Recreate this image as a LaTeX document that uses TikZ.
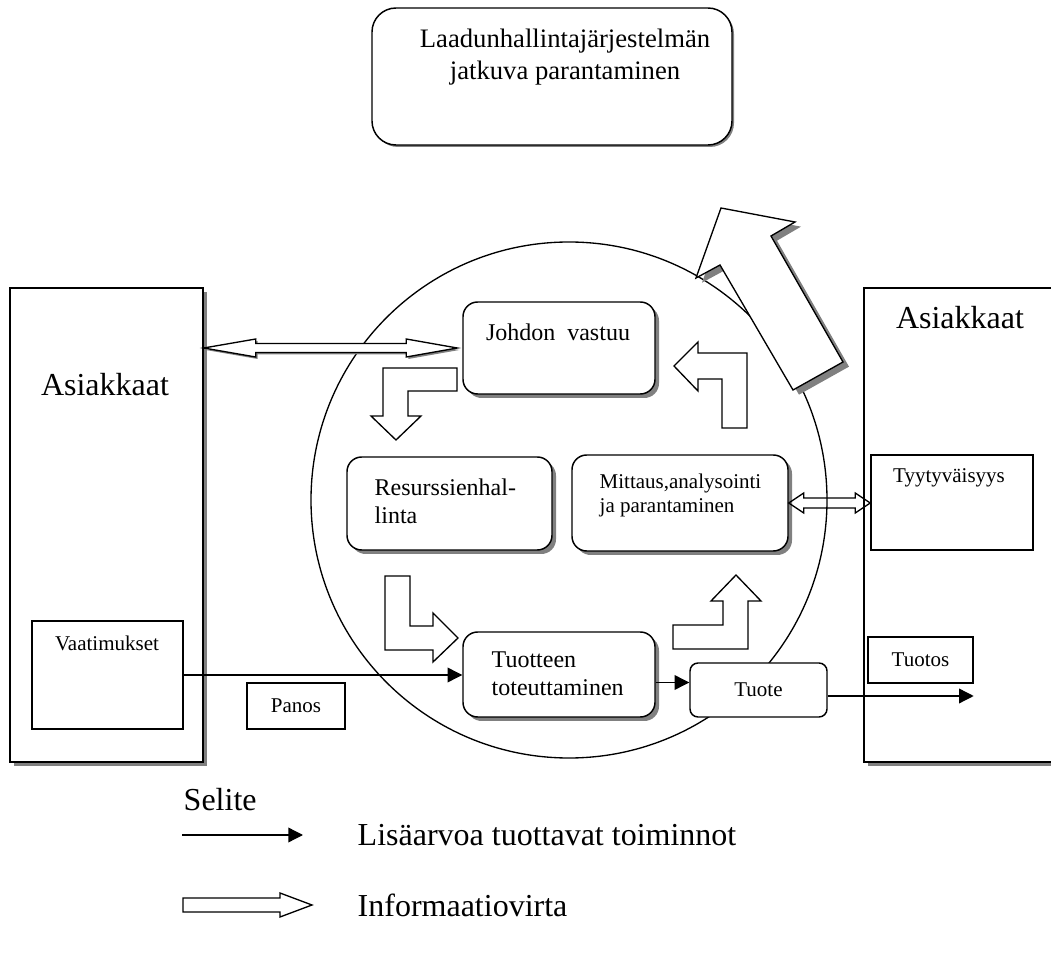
\documentclass[tikz,border=0pt]{standalone}
\usepackage{fontspec}
\setmainfont{Liberation Serif}
\usetikzlibrary{arrows.meta,positioning,calc,shadows}
\definecolor{shadowgray}{RGB}{128,128,128}
\tikzset{
  box/.style={draw, line width=1.1pt, fill=white, inner sep=0pt},
  roundbox/.style={box, rounded corners=11pt},
  shadowed/.style={drop shadow={shadow xshift=3pt, shadow yshift=-3pt, fill=shadowgray, opacity=1}},
  flow/.style={line width=1pt, -{Triangle[length=11pt,width=11pt]}},
  info/.style={draw, line width=1pt, fill=white},
  bigtxt/.style={font=\fontsize{24}{28}\selectfont},
  midtxt/.style={font=\fontsize{18}{21}\selectfont},
  smalltxt/.style={font=\fontsize{15.75}{18}\selectfont}
}

\begin{document}
\begin{tikzpicture}[x=0.75pt, y=-0.75pt]
				\useasboundingbox (0,0) rectangle (1051,955);
				\clip (0,0) rectangle (1051,955);
				
				% Process circle
				\node[draw, circle, line width=1pt, minimum size=387pt, inner sep=0pt] (circ) at (569,500) {};
				
				% Continuous improvement box
				\node[roundbox, rounded corners=18pt, minimum width=270pt, minimum height=102.75pt, drop shadow={shadow xshift=1.5pt, shadow yshift=-1.5pt, fill=shadowgray, opacity=1}] (top) at (552,76.5) {};
				\node[font=\fontsize{20}{24}\selectfont, align=center] (toptxt) at (565,57) {Laadunhallintajärjestelmän\\jatkuva parantaminen};
				
				% Customers on both sides
				\node[box, shadowed, minimum width=144.75pt, minimum height=355.5pt] (custL) at (106.5,525) {};
				\node[bigtxt] (custLtxt) at (105,385) {Asiakkaat};
				\node[box, shadowed, minimum width=154.5pt, minimum height=355.5pt] (custR) at (967,525) {};
				\node[bigtxt] (custRtxt) at (960,318) {Asiakkaat};
				
				\node[box, minimum width=113.25pt, minimum height=81pt] (vaat) at (107.5,675) {};
				\node[smalltxt] (vaattxt) at (107,643) {Vaatimukset};
				\node[box, smalltxt, minimum width=73.5pt, minimum height=34.5pt] (panos) at (296,706) {Panos};
				\node[box, minimum width=121.5pt, minimum height=71.25pt] (tyyt) at (952,502.5) {};
				\node[smalltxt] (tyyttxt) at (949,478) {Tyytyväisyys};
				\node[box, smalltxt, minimum width=78.75pt, minimum height=34.5pt] (tuotos) at (920.5,660) {Tuotos};
				
				% Process boxes
				\node[roundbox, shadowed, minimum width=144pt, minimum height=69pt] (johto) at (559,348) {};
				\node[midtxt] (johtotxt) at (558,332) {Johdon~~vastuu};
				\node[roundbox, shadowed, minimum width=153.75pt, minimum height=69.75pt] (resurssi) at (449.5,503.5) {};
				\node[midtxt, anchor=west, align=left] (resurssitxt) at (370,501) {Resurssienhal-\\linta};
				\node[roundbox, shadowed, minimum width=162pt, minimum height=72pt] (mittaus) at (680,503) {};
				\node[smalltxt, anchor=west, align=left] (mittaustxt) at (595,495) {Mittaus,analysointi\\ja parantaminen};
				\node[roundbox, shadowed, minimum width=144pt, minimum height=63.75pt] (tuotteen) at (559,674.5) {};
				\node[midtxt, anchor=west, align=left] (tuotteentxt) at (487,674) {Tuotteen\\toteuttaminen};
				\node[roundbox, rounded corners=6pt, smalltxt, minimum width=102.75pt, minimum height=40.5pt] (tuote) at (758.5,690) {Tuote};
				
				% Value adding flow
				\draw[flow] (vaat.east) -- (vaat.east -| tuotteen.west);
				\coordinate (q1) at ($(tuotteen.east)+(0,8)$);
				\draw[flow] (q1) -- (q1 -| tuote.west);
				\coordinate (q2) at ($(tuote.east)+(0,6)$);
				\draw[flow] (q2) -- (q2 -| tuotos.east);
				
				% Information flows
				\coordinate (d1) at (custL.east |- johto.west);
				\coordinate (d2) at ($(johto.west)+(-5,0)$);
				\draw[info, drop shadow={shadow xshift=1.5pt, shadow yshift=-1.5pt, fill=shadowgray, opacity=1}] (d1) -- ($(d1)+(52,-9)$) -- ($(d1)+(52,-4.5)$) -- ($(d2)+(-51,-4.5)$) -- ($(d2)+(-51,-9)$) -- (d2) -- ($(d2)+(-51,9)$) -- ($(d2)+(-51,4.5)$) -- ($(d1)+(52,4.5)$) -- ($(d1)+(52,9)$) -- cycle;
				\coordinate (m1) at (mittaus.east);
				\coordinate (m2) at (mittaus.east -| tyyt.west);
				\draw[info, fill=none] (m1) -- ($(m1)+(15,-10)$) -- ($(m1)+(15,-5)$) -- ($(m2)+(-15,-5)$) -- ($(m2)+(-15,-10)$) -- (m2) -- ($(m2)+(-15,10)$) -- ($(m2)+(-15,5)$) -- ($(m1)+(15,5)$) -- ($(m1)+(15,10)$) -- cycle;
				
				% Bent arrows round the circle
				\draw[info] (457,368) -- (383,368) -- (383,416) -- (371,416) -- (396,440) -- (421,416) -- (408,416) -- (408,391) -- (457,391) -- cycle;
				\draw[info] (385,576) -- (410,576) -- (410,626) -- (433,626) -- (433,613) -- (458,638) -- (433,662) -- (433,650) -- (385,650) -- cycle;
				\draw[info] (673,649) -- (748,649) -- (748,601) -- (761,601) -- (736,575) -- (711,601) -- (723,601) -- (723,625) -- (673,625) -- cycle;
				\draw[info] (747,428) -- (722,428) -- (722,379) -- (698,379) -- (698,391) -- (674,366) -- (698,342) -- (698,353) -- (747,353) -- cycle;
				
				% Improvement arrow
				\draw[info, drop shadow={shadow xshift=4.5pt, shadow yshift=-3.5pt, fill=shadowgray, opacity=1}] (843,362) -- (793,390) -- (720,265) -- (696,278) -- (721,208) -- (795,222) -- (771,236) -- cycle;
				
				% Legend
				\node[bigtxt, anchor=west] (selite) at (179,800) {Selite};
				\coordinate (l1a) at (182,835);
				\coordinate (l1b) at (303,835);
				\draw[flow] (l1a) -- (l1b);
				\node[bigtxt, anchor=west] (lisa) at (353,835) {Lisäarvoa tuottavat toiminnot};
				\draw[info] (183,898) -- (280,898) -- (280,893) -- (312,905) -- (280,917) -- (280,912) -- (183,912) -- cycle;
				\node[bigtxt, anchor=west] (infotxt) at (353,905) {Informaatiovirta};
			\end{tikzpicture}
\end{document}
